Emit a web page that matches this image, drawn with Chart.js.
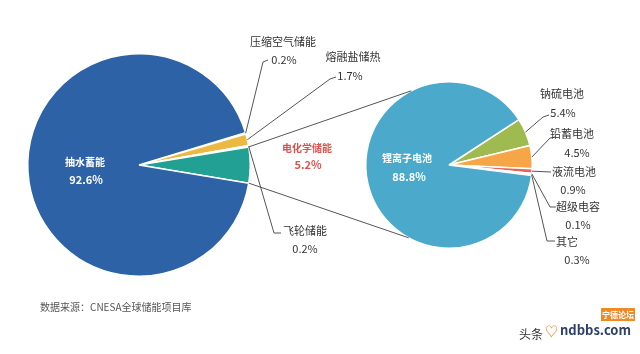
<!DOCTYPE html>
<html>
<head>
<meta charset="utf-8">
<script src="https://cdn.jsdelivr.net/npm/chart.js@4.4.0/dist/chart.umd.min.js"></script>
<style>
  body { margin: 0; background: #fff; }
  #wrap { position: relative; width: 640px; height: 354px; }
  #wrap canvas { position: absolute; left: 0; top: 0; }
</style>
</head>
<body>
<div id="wrap">
  <canvas id="pieGeral" width="640" height="354"></canvas>
  <canvas id="pieQuimico" width="640" height="354"></canvas>
</div>
<script>
// dados do grafico
const tiposArmazenamento = ['压缩空气储能', '熔融盐储热', '飞轮储能', '电化学储能', '抽水蓄能'];
const valoresArmazenamento = [0.2, 1.7, 0.2, 5.2, 92.6];
const tiposQuimicos = ['钠硫电池', '铅蓄电池', '液流电池', '超级电容', '其它', '锂离子电池'];
const valoresQuimicos = [5.4, 4.5, 0.9, 0.1, 0.3, 88.8];

const coresGeral = ['#eabf55', '#ebb941', '#b8e0da', '#22a093', '#2d62a6'];
const coresQuimico = ['#9fbb4f', '#f6a547', '#e8615a', '#f2d0cc', '#b0b0b0', '#4ba9cc'];

const fonte = '"Noto Sans CJK SC", "Noto Sans", sans-serif';

// posicoes dos rotulos (nome, valor, cotovelo da linha, fim da linha)
const rotulosGeral = [
    { nx: 283, ny: 42, vx: 284, vy: 60, cot: [263, 62], fim: [268, 60] },
    { nx: 353, ny: 57, vx: 350, vy: 76, cot: [330, 79], fim: [336, 77] },
    { nx: 305, ny: 231, vx: 305, vy: 249, cot: [274, 233], fim: [281, 233] },
    { nx: 307, ny: 148, vx: 308, vy: 165, cor: '#d9534f', negrito: true },
    { nx: 85, ny: 162, vx: 86, vy: 180, cor: '#ffffff', negrito: true }
];
const rotulosQuimico = [
    { nx: 562, ny: 94, vx: 563, vy: 113, cot: [543, 117], fim: [549, 115] },
    { nx: 572, ny: 134, vx: 577, vy: 153, cot: [550, 138], fim: [556, 137] },
    { nx: 574, ny: 172, vx: 573, vy: 190, cot: [551, 172], fim: [551, 172] },
    { nx: 578, ny: 207, vx: 578, vy: 225, cot: [550, 207], fim: [556, 207] },
    { nx: 567, ny: 242, vx: 577, vy: 260, cot: [547, 241], fim: [555, 241] },
    { nx: 407, ny: 158, vx: 409, vy: 177, cor: '#ffffff', negrito: true }
];

let graficoGeral = null;

function pontoNoArco(arco, angulo) {
    return [arco.x + Math.cos(angulo) * arco.outerRadius, arco.y + Math.sin(angulo) * arco.outerRadius];
}

const pluginRotulos = {
    id: 'rotulos',
    afterDraw(chart, args, opts) {
        const ctx = chart.ctx;
        const arcos = chart.getDatasetMeta(0).data;
        const nomes = chart.data.labels;
        const valores = chart.data.datasets[0].data;
        ctx.save();
        ctx.textAlign = 'center';
        ctx.textBaseline = 'middle';
        opts.lista.forEach(function (r, i) {
            const arco = arcos[i];
            if (r.cot) {
                const p = pontoNoArco(arco, (arco.startAngle + arco.endAngle) / 2);
                ctx.strokeStyle = '#555';
                ctx.lineWidth = 1;
                ctx.beginPath();
                ctx.moveTo(p[0], p[1]);
                ctx.lineTo(r.cot[0], r.cot[1]);
                ctx.lineTo(r.fim[0], r.fim[1]);
                ctx.stroke();
            }
            const cor = r.cor || '#333';
            ctx.fillStyle = cor;
            ctx.font = (r.negrito ? 'bold ' : '') + (r.negrito ? '10px ' : '11px ') + fonte;
            ctx.fillText(nomes[i], r.nx, r.ny);
            ctx.font = (r.negrito ? 'bold ' : '') + '11px ' + fonte;
            ctx.fillText(valores[i].toFixed(1) + '%', r.vx, r.vy);
        });
        ctx.restore();
    }
};

// linhas que ligam a fatia do eletroquimico a segunda pizza
const pluginLigacao = {
    id: 'ligacao',
    afterDraw(chart) {
        if (!graficoGeral) return;
        const ctx = chart.ctx;
        const fatia = graficoGeral.getDatasetMeta(0).data[3];
        const centro = chart.getDatasetMeta(0).data[0];
        const a = pontoNoArco(fatia, fatia.startAngle);
        const b = pontoNoArco(fatia, fatia.endAngle);
        const c = pontoNoArco(centro, -117 * Math.PI / 180);
        const d = pontoNoArco(centro, 119 * Math.PI / 180);
        ctx.save();
        ctx.strokeStyle = '#555';
        ctx.lineWidth = 1;
        ctx.beginPath();
        ctx.moveTo(a[0], a[1]);
        ctx.lineTo(c[0], c[1]);
        ctx.moveTo(b[0], b[1]);
        ctx.lineTo(d[0], d[1]);
        ctx.stroke();

        // fonte dos dados e marca d'agua
        ctx.fillStyle = '#555';
        ctx.font = '10px ' + fonte;
        ctx.textAlign = 'left';
        ctx.textBaseline = 'middle';
        ctx.fillText('数据来源：CNESA全球储能项目库', 40, 307);

        ctx.fillStyle = '#333';
        ctx.font = '12px ' + fonte;
        ctx.fillText('头条', 519, 334);
        ctx.fillStyle = '#f08a24';
        ctx.font = 'bold 13px ' + fonte;
        ctx.fillText('♡', 545, 331);
        ctx.fillStyle = '#2d3f6c';
        ctx.font = 'bold 13px ' + fonte;
        ctx.fillText('ndbbs.com', 560, 330);
        ctx.fillStyle = '#f08a24';
        ctx.fillRect(601, 308, 34, 13);
        ctx.fillStyle = '#fff';
        ctx.font = 'bold 8px ' + fonte;
        ctx.textAlign = 'center';
        ctx.fillText('宁德论坛', 618, 315);
        ctx.restore();
    }
};

const opcoesBase = {
    responsive: false,
    animation: false,
    plugins: { legend: { display: false }, tooltip: { enabled: false } }
};

graficoGeral = new Chart(document.getElementById('pieGeral').getContext('2d'), {
    type: 'pie',
    data: {
        labels: tiposArmazenamento,
        datasets: [{
            data: valoresArmazenamento,
            backgroundColor: coresGeral,
            borderColor: '#ffffff',
            borderWidth: 1.5
        }]
    },
    options: Object.assign({}, opcoesBase, {
        rotation: 73.08,
        layout: { padding: { left: 27, top: 53, right: 389, bottom: 77 } },
        plugins: { legend: { display: false }, tooltip: { enabled: false }, rotulos: { lista: rotulosGeral } }
    }),
    plugins: [pluginRotulos]
});

const graficoQuimico = new Chart(document.getElementById('pieQuimico').getContext('2d'), {
    type: 'pie',
    data: {
        labels: tiposQuimicos,
        datasets: [{
            data: valoresQuimicos,
            backgroundColor: coresQuimico,
            borderColor: '#ffffff',
            borderWidth: 1.5
        }]
    },
    options: Object.assign({}, opcoesBase, {
        rotation: 57,
        layout: { padding: { left: 365, top: 81, right: 107, bottom: 105 } },
        plugins: { legend: { display: false }, tooltip: { enabled: false }, rotulos: { lista: rotulosQuimico } }
    }),
    plugins: [pluginRotulos, pluginLigacao]
});
</script>
</body>
</html>
